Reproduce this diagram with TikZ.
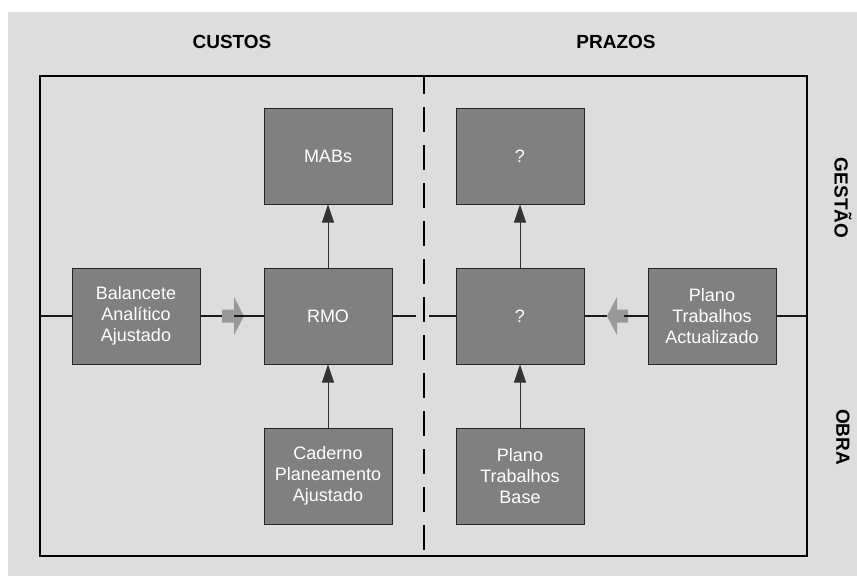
\documentclass[tikz,border=0pt]{standalone}
\usepackage{fontspec}
\setmainfont{Liberation Sans}
\usetikzlibrary{arrows.meta}
\definecolor{bggray}{HTML}{DDDDDD}
\definecolor{boxgray}{HTML}{808080}
\definecolor{blockgray}{HTML}{999999}
\begin{document}
\begin{tikzpicture}[x=1pt,y=-1pt,
  stagebox/.style={draw=black!85,line width=1pt,fill=boxgray,text=white,
    minimum width=128pt,minimum height=96pt,inner sep=0pt,align=center,
    font=\fontsize{18}{20.7}\selectfont},
  heading/.style={font=\fontsize{19}{22}\selectfont\bfseries},
  link/.style={line width=1.1pt,black!90},
  uparrow/.style={line width=1pt,black!80,-{Triangle[length=18pt,width=12pt]}},
  blockarrow/.style={fill=blockgray,draw=none}]
\useasboundingbox (0,0) rectangle (857,576);
\fill[bggray] (8,12) rectangle (857,576);

% outer frame and the dashed separator between the two columns
\draw[line width=2pt] (40,76) rectangle (807,556);
\draw[line width=1.6pt,dash pattern=on 25pt off 13pt,dash phase=7pt] (424,76) -- (424,556);

% column and row headings
\node[heading] (custos) at (232,42) {CUSTOS};
\node[heading] (prazos) at (616,42) {PRAZOS};
\node[heading,rotate=-90] (gestao) at (843,198) {GESTÃO};
\node[heading,rotate=-90] (obra) at (843,437) {OBRA};

% boxes
\node[stagebox] (mabs) at (328,156) {MABs};
\node[stagebox] (rmo)  at (328,316) {RMO};
\node[stagebox] (cad)  at (328,476) {Caderno\\Planeamento\\Ajustado};
\node[stagebox] (bal)  at (136,316) {Balancete\\Analítico\\Ajustado};
\node[stagebox] (qtop) at (520,156) {?};
\node[stagebox] (qmid) at (520,316) {?};
\node[stagebox] (ptb)  at (520,476) {Plano\\Trabalhos\\Base};
\node[stagebox] (pta)  at (712,316) {Plano\\Trabalhos\\Actualizado};

% end points on the frame and beside the separator
\coordinate (fl) at (40,316);
\coordinate (fr) at (807,316);
\coordinate (sepl) at (416,316);
\coordinate (sepr) at (429,316);

% light grey block arrows
\coordinate (ra-tail) at (222,316);
\coordinate (ra-base) at (234,316);
\fill[blockarrow] (222,309.5) -- (234,309.5) -- (234,297) -- (244,316)
  -- (234,335) -- (234,322.5) -- (222,322.5) -- cycle;
\coordinate (la-tip) at (607,316);
\coordinate (la-base) at (624,316);
\fill[blockarrow] (628,309.5) -- (617,309.5) -- (617,297) -- (607,316)
  -- (617,335) -- (617,322.5) -- (628,322.5) -- cycle;

% horizontal connectors
\draw[link] (fl) -- (bal.west);
\draw[link] (bal.east) -- (ra-tail);
\draw[link] (ra-base) -- (rmo.west);
\draw[link] (rmo.east) -- (sepl);
\draw[link] (sepr) -- (qmid.west);
\draw[link] (qmid.east) -- (la-tip);
\draw[link] (la-base) -- (pta.west);
\draw[link] (pta.east) -- (fr);

% vertical arrows
\draw[uparrow] (rmo.north) -- (mabs.south);
\draw[uparrow] (cad.north) -- (rmo.south);
\draw[uparrow] (qmid.north) -- (qtop.south);
\draw[uparrow] (ptb.north) -- (qmid.south);
\end{tikzpicture}
\end{document}
